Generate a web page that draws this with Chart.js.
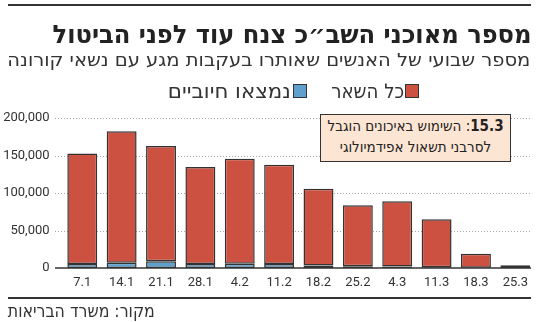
<!DOCTYPE html>
<html lang="he">
<head>
<meta charset="utf-8">
<script src="https://cdn.jsdelivr.net/npm/chart.js@4.4.1/dist/chart.umd.min.js"></script>
<style>
  body { margin: 0; width: 550px; height: 322px; background: #fff; position: relative; overflow: hidden; font-family: "DejaVu Sans Condensed", "DejaVu Sans", sans-serif; color: #222; }
  canvas { position: absolute; left: 0; top: 0; }
  .abs { position: absolute; white-space: nowrap; direction: rtl; transform-origin: right top; }
  .rule { position: absolute; background: #333; }
  #title { right: 18px; top: 20px; font-size: 25px; font-weight: bold; }
  #subtitle { right: 20px; top: 49px; font-size: 18px; color: #333; }
  .legend { top: 79px; font-size: 20px; color: #333; }
  .sw { position: absolute; top: 84px; width: 12px; height: 12px; border: 1px solid #333; }
  #note { left: 320px; top: 114px; width: 189px; height: 45px; background: #fde5d4; border: 1.5px solid #333; text-align: center; font-size: 15px; line-height: 21px; padding-top: 1px; color: #222; }
  #source { right: 395px; top: 300px; font-size: 18px; color: #333; }
</style>
</head>
<body>
<canvas id="chart" width="550" height="322"></canvas>
<div class="rule" style="left:8px;top:4px;width:523px;height:2px"></div>
<div id="title" class="abs" data-w="479">מספר מאוכני השב״כ צנח עוד לפני הביטול</div>
<div id="subtitle" class="abs" data-w="523">מספר שבועי של האנשים שאותרו בעקבות מגע עם נשאי קורונה</div>
<div class="sw" id="sw_rest" style="left:405px"></div>
<div class="abs legend" style="right:146px" data-w="73">כל השאר</div>
<div class="sw" id="sw_pos" style="left:293px"></div>
<div class="abs legend" style="right:259px" data-w="123">נמצאו חיוביים</div>
<div id="note" class="abs"><b>15.3</b>: השימוש באיכונים הוגבל<br>לסרבני תשאול אפידמיולוגי</div>
<div class="rule" style="left:8px;top:297px;width:523px;height:2px"></div>
<div id="source" class="abs" data-w="147">מקור: משרד הבריאות</div>
<script>
const weeks = ["7.1", "14.1", "21.1", "28.1", "4.2", "11.2", "18.2", "25.2", "4.3", "11.3", "18.3", "25.3"];
const positive = [5300, 7100, 9000, 5300, 5800, 5300, 3500, 2500, 2000, 1000, 300, 100];
const the_rest = [147500, 175100, 153700, 129300, 139900, 132400, 102100, 81300, 87100, 64100, 18800, 3500];
const y_ticks = [0, 50000, 100000, 150000, 200000];

const red = "#cc5140";
const blue = "#5fa0cc";
document.getElementById("sw_rest").style.background = red;
document.getElementById("sw_pos").style.background = blue;

// squeeze the texts to the width they have in print
document.querySelectorAll("[data-w]").forEach((el) => {
    const w = el.getBoundingClientRect().width;
    el.style.transform = `scaleX(${el.dataset.w / w})`;
});

const gridLines = {
    id: "gridLines",
    beforeDatasetsDraw(chart) {
        const ctx = chart.ctx;
        const y = chart.scales.y;
        const left = 55, right = 531;
        ctx.save();
        ctx.strokeStyle = "#a8a8a8";
        ctx.lineWidth = 1;
        ctx.setLineDash([1, 2]);
        y_ticks.slice(1).forEach((v) => {
            const py = Math.round(y.getPixelForValue(v)) + 0.5;
            ctx.beginPath();
            ctx.moveTo(left, py);
            ctx.lineTo(right, py);
            ctx.stroke();
        });
        ctx.restore();
    },
    afterDatasetsDraw(chart) {
        const ctx = chart.ctx;
        const py = chart.scales.y.getPixelForValue(0);
        ctx.save();
        ctx.strokeStyle = "#333";
        ctx.lineWidth = 1.5;
        ctx.beginPath();
        ctx.moveTo(55, py);
        ctx.lineTo(531, py);
        ctx.stroke();
        ctx.restore();
    }
};

const chart = new Chart(document.getElementById("chart").getContext("2d"), {
    type: "bar",
    data: {
        labels: weeks,
        datasets: [{
            label: "נמצאו חיוביים",
            data: positive,
            backgroundColor: blue,
            borderColor: "#333",
            borderWidth: 1.5,
            borderSkipped: false
        }, {
            label: "כל השאר",
            data: the_rest,
            backgroundColor: red,
            borderColor: "#333",
            borderWidth: 1.5,
            borderSkipped: false
        }]
    },
    options: {
        responsive: false,
        animation: false,
        layout: { padding: { top: 118, right: 15, bottom: 0, left: 0 } },
        plugins: { legend: { display: false }, tooltip: { enabled: false } },
        categoryPercentage: 1,
        barPercentage: 0.76,
        scales: {
            x: {
                stacked: true,
                grid: { display: false, drawTicks: false },
                border: { display: false },
                ticks: { color: "#333", font: { family: "Roboto", size: 13 }, padding: 7 },
                afterFit: (scale) => { scale.height = 54; }
            },
            y: {
                stacked: true,
                min: 0,
                max: 200000,
                grid: { display: false, drawTicks: false },
                border: { display: false },
                ticks: {
                    stepSize: 50000,
                    color: "#333",
                    font: { family: "Roboto", size: 13 },
                    padding: 13,
                    callback: (v) => v.toLocaleString("en-US")
                },
                afterFit: (scale) => { scale.width = 62.6; }
            }
        }
    },
    plugins: [gridLines]
});
</script>
</body>
</html>
